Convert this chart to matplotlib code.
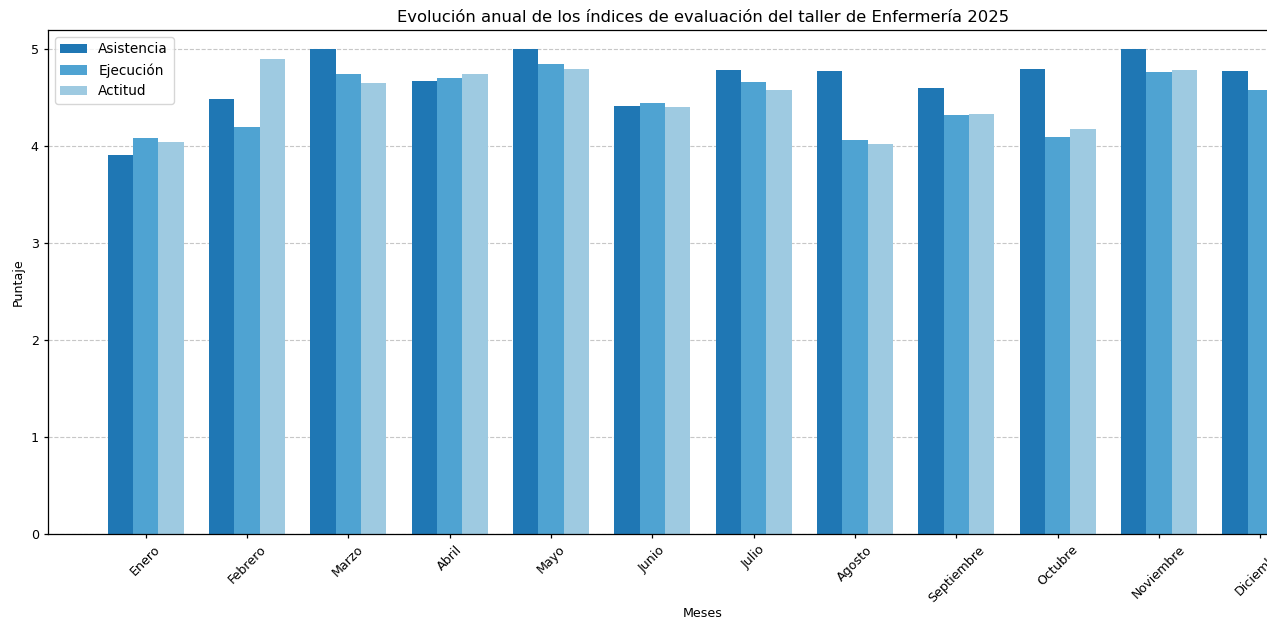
import matplotlib
matplotlib.use("Agg")
import matplotlib.pyplot as plt
import numpy as np

meses = ["Enero", "Febrero", "Marzo", "Abril", "Mayo", "Junio", "Julio",
         "Agosto", "Septiembre", "Octubre", "Noviembre", "Diciembre"]
asistencia = [3.91, 4.49, 5.0, 4.67, 5.0, 4.42, 4.79, 4.78, 4.60, 4.80, 5.0, 4.78]
ejecucion = [4.09, 4.20, 4.75, 4.70, 4.85, 4.45, 4.66, 4.06, 4.32, 4.10, 4.77, 4.58]
actitud = [4.04, 4.90, 4.65, 4.75, 4.80, 4.41, 4.58, 4.02, 4.33, 4.18, 4.79, 4.60]

fs = 9.1
plt.rcParams["font.size"] = fs
plt.rcParams["axes.linewidth"] = 0.9
plt.rcParams["xtick.major.width"] = 0.9
plt.rcParams["ytick.major.width"] = 0.9
plt.rcParams["xtick.major.size"] = 3.2
plt.rcParams["ytick.major.size"] = 3.2

fig = plt.figure(figsize=(12.67, 6.24), dpi=100)
ax = fig.add_axes([48/1267, 90/624, 1310/1267, 504/624])

x = np.arange(len(meses))
w = 0.25
ax.bar(x - w, asistencia, w, label="Asistencia", color="#1f77b4")
ax.bar(x, ejecucion, w, label="Ejecución", color="#4fa3d2")
ax.bar(x + w, actitud, w, label="Actitud", color="#9ecae1")

ax.set_xticks(x)
ax.set_xticklabels(meses, rotation=45, fontsize=fs)
ax.tick_params(axis="y", labelsize=fs)
ax.set_ylim(0, 5.2)
ax.set_xlabel("Meses", fontsize=fs, labelpad=2)
ax.set_ylabel("Puntaje", fontsize=fs)
ax.set_title("Evolución anual de los índices de evaluación del taller de Enfermería 2025",
             fontsize=11.8, pad=5.5)
ax.yaxis.grid(True, linestyle="--", alpha=0.7)
ax.set_axisbelow(True)
ax.legend(loc="upper left", fontsize=9.8)

fig.savefig("out.png", dpi=100)
